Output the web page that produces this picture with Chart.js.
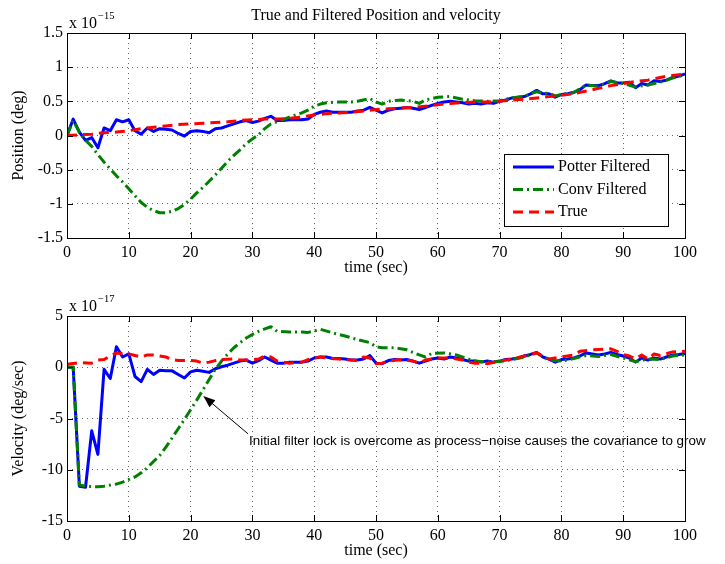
<!DOCTYPE html>
<html>
<head>
<meta charset="utf-8">
<script src="https://cdn.jsdelivr.net/npm/chart.js@4.4.0/dist/chart.umd.min.js"></script>
<style>
  body { margin: 0; background: #fff; }
  canvas { position: absolute; left: 0; }
  #posChart { top: 0; }
  #velChart { top: 282px; }
</style>
</head>
<body>
<canvas id="posChart" width="725" height="282"></canvas>
<canvas id="velChart" width="725" height="282"></canvas>
<script>
// time base for the Potter filter output (1 s samples)
const potterT = [0,1,2,3,4,5,6,7,8,9,10,11,12,13,14,15,16,17,18,19,20,21,22,23,24,25,26,27,28,29,30,
  31,32,33,34,35,36,37,38,39,40,41,42,43,44,45,46,47,48,49,50,51,52,53,54,55,56,57,58,59,60,
  61,62,63,64,65,66,67,68,69,70,71,72,73,74,75,76,77,78,79,80,81,82,83,84,85,86,87,88,89,90,
  91,92,93,94,95,96,97,98,99,100];

// position, units of 1e-15 deg
const posPotter = [0,0.24,0.05,-0.07,-0.03,-0.18,0.11,0.07,0.23,0.2,0.23,0.07,0.02,0.11,0.06,0.1,0.09,0.08,0.03,-0.01,
  0.06,0.07,0.06,0.04,0.1,0.11,0.14,0.17,0.2,0.22,0.19,0.21,0.25,0.28,
  0.22,0.22,0.23,0.23,0.23,0.24,0.31,0.34,0.36,0.34,0.34,0.34,0.34,0.36,0.37,0.41,0.37,0.33,0.37,0.39,0.40,0.41,
  0.40,0.38,0.41,0.44,0.47,0.49,0.50,0.49,0.48,0.46,
  0.47,0.46,0.48,0.47,0.50,0.52,0.55,0.56,0.57,0.61,0.66,0.61,0.61,0.56,0.60,0.61,0.63,0.67,0.74,0.73,0.73,
  0.76,0.80,0.77,0.77,0.78,0.70,0.76,0.74,0.80,0.79,0.81,0.85,0.87,0.90];

const posConvT = [0,1,2,3,4,5,6,7,8,9,10,11,12,13,14,15,16,17,18,19,20,21,22,23,24,25,26,27,28,29,30,31,32,33,34,
  36,38,39,40,41,42,44,46,47,49,50,51,52,54,56,57,58,60,62,64,66,68,70,72,74,75,76,77,78,79,
  80,82,84,86,88,90,92,94,96,98,100];
const posConv = [0,0.22,0.05,-0.07,-0.16,-0.28,-0.39,-0.49,-0.59,-0.68,-0.78,-0.88,-0.98,-1.05,-1.10,-1.13,-1.13,-1.11,-1.07,-1.01,
  -0.93,-0.84,-0.76,-0.67,-0.58,-0.48,-0.38,-0.29,-0.21,-0.12,-0.05,0.01,0.1,0.17,0.2,
  0.27,0.33,0.37,0.43,0.46,0.48,0.49,0.49,0.5,0.54,0.49,0.46,0.5,0.52,0.5,0.47,0.52,0.56,0.57,0.53,
  0.51,0.5,0.51,0.55,0.57,0.61,0.64,0.62,0.62,0.58,0.6,0.63,0.74,0.72,0.79,0.76,0.71,0.74,0.78,0.84,0.89];

const posTrueT = [0,2,4,6,8,10,12,14,16,18,20,22,24,26,28,30,32,34,36,38,40,42,44,46,48,50,
  52,54,56,58,60,62,64,66,68,70,72,74,76,78,80,82,84,86,88,90,92,94,96,98,100];
const posTrue = [0,0.01,0.02,0.04,0.05,0.07,0.1,0.12,0.14,0.16,0.17,0.18,0.19,0.2,0.22,0.23,0.24,0.24,0.25,0.27,0.3,
  0.32,0.33,0.34,0.36,0.38,0.39,0.40,0.41,0.43,0.45,0.47,0.48,0.49,0.49,0.5,0.52,0.53,0.55,0.57,0.59,
  0.61,0.65,0.69,0.73,0.76,0.79,0.81,0.85,0.88,0.9];

// velocity, units of 1e-17 deg/sec
const velPotter = [0,0,-11.6,-11.7,-6.2,-8.5,-0.2,-1.1,2.0,1.0,1.3,-0.9,-1.4,-0.2,-0.7,-0.3,-0.35,-0.35,-0.7,-1.05,
  -0.45,-0.3,-0.4,-0.5,-0.15,0.05,0.2,0.4,0.6,0.7,0.4,0.65,1.0,
  0.7,0.4,0.4,0.5,0.5,0.5,0.6,0.9,1.0,1.0,0.85,0.85,0.8,0.7,0.7,0.8,1.15,
  0.4,0.35,0.65,0.75,0.7,0.75,0.6,0.4,0.6,0.8,0.9,0.8,1.0,0.9,0.75,0.6,
  0.6,0.5,0.6,0.5,0.6,0.75,0.8,0.9,1.1,1.25,1.45,1.0,0.8,0.5,0.75,0.8,0.9,1.1,1.4,1.3,
  1.2,1.3,1.45,1.25,1.1,0.9,0.5,0.9,0.7,0.9,0.8,1.0,1.2,1.25,1.35];

const velConvT = [0,1,2,3,4,5,6,7,8,9,10,11,12,13,14,15,16,17,18,19,20,21,22,23,24,25,26,27,28,29,30,31,32,33,34,
  36,38,39,41,43,45,47,49,50,51,53,55,57,58,59,61,63,65,66,68,70,72,74,76,78,80,82,84,86,88,90,92,94,96,98,100];
const velConv = [0,0,-11.5,-11.6,-11.65,-11.65,-11.6,-11.5,-11.4,-11.2,-10.95,-10.7,-10.3,-9.8,-9.2,-8.6,-7.8,-6.9,-6.0,-5.1,
  -4.15,-3.2,-2.2,-1.2,-0.2,0.6,1.3,1.9,2.4,2.85,3.2,3.5,3.75,3.95,3.5,
  3.45,3.45,3.4,3.7,3.35,3.05,2.7,2.4,2.0,1.9,1.9,1.7,1.2,1.0,1.35,1.4,1.2,0.8,0.6,0.5,
  0.55,0.75,1.0,1.4,0.7,0.6,0.85,1.15,1.05,1.25,0.9,0.55,0.8,0.75,1.1,1.2];

const velTrueT = [0,2,4,5,6,7,8,9,10,11,12,13,14,15,16,17,18,20,21,22,23,24,25,27,28,29,30,31,32,33,
  34,36,38,39,40,41,42,44,46,47,48,49,50,51,52,54,56,57,58,60,62,64,65,66,68,70,72,74,76,78,
  80,82,83,85,87,88,89,90,91,92,93,94,95,96,98,100];
const velTrue = [0.3,0.45,0.4,0.7,0.75,1.1,1.4,1.35,1.3,1.15,1.0,1.2,1.2,1.1,1.0,0.75,0.65,0.65,0.6,0.4,
  0.5,0.65,0.75,0.8,0.7,0.7,0.75,0.8,1.1,1.0,0.6,0.4,0.5,0.75,0.9,1.0,0.9,0.8,0.7,0.65,
  1.0,0.9,0.35,0.4,0.6,0.75,0.6,0.4,0.7,0.9,0.9,0.7,0.5,0.4,0.35,0.6,0.8,1.1,1.4,0.8,
  1.0,1.2,1.55,1.7,1.75,1.8,1.55,1.25,1.1,0.8,1.2,0.8,1.3,1.15,1.5,1.55];

const seriesNames = ['Potter Filtered', 'Conv Filtered', 'True'];

const serif = '"Liberation Serif", "Times New Roman", serif';
const sans = '"Liberation Sans", Arial, sans-serif';

function pts(t, v) {
  return t.map((x, i) => ({ x: x, y: v[i] }));
}

// blue solid, green dash-dot, red dashed; True drawn on top
function lines(potter, conv, truth) {
  return [
    { label: seriesNames[0], data: potter, borderColor: '#0000ff', borderWidth: 3, borderDash: [], order: 2 },
    { label: seriesNames[1], data: conv, borderColor: '#008000', borderWidth: 3, borderDash: [10, 4, 2, 4], order: 1 },
    { label: seriesNames[2], data: truth, borderColor: '#ff0000', borderWidth: 3, borderDash: [10, 6], order: 0 }
  ];
}

// box, inward ticks, exponent, titles, legend and arrow note
const matlabAxes = {
  id: 'matlabAxes',
  beforeDraw(chart) {
    const ctx = chart.ctx;
    ctx.save();
    ctx.fillStyle = '#fff';
    ctx.fillRect(0, 0, chart.width, chart.height);
    ctx.restore();
  },
  afterDraw(chart, args, o) {
    const ctx = chart.ctx, a = chart.chartArea;
    const xs = chart.scales.x, ys = chart.scales.y;
    const cx = (a.left + a.right) / 2;
    ctx.save();
    ctx.strokeStyle = '#000';
    ctx.lineWidth = 1;
    ctx.setLineDash([]);
    ctx.strokeRect(Math.round(a.left) + 0.5, Math.round(a.top) + 0.5,
      Math.round(a.right - a.left), Math.round(a.bottom - a.top));
    ctx.beginPath();
    for (const t of xs.ticks) {
      const x = Math.round(xs.getPixelForValue(t.value)) + 0.5;
      ctx.moveTo(x, a.top); ctx.lineTo(x, a.top + 6);
      ctx.moveTo(x, a.bottom); ctx.lineTo(x, a.bottom - 6);
    }
    for (const t of ys.ticks) {
      const y = Math.round(ys.getPixelForValue(t.value)) + 0.5;
      ctx.moveTo(a.left, y); ctx.lineTo(a.left + 6, y);
      ctx.moveTo(a.right, y); ctx.lineTo(a.right - 6, y);
    }
    ctx.stroke();

    ctx.fillStyle = '#000';
    ctx.textAlign = 'left';
    ctx.textBaseline = 'alphabetic';
    ctx.font = '16px ' + serif;
    ctx.fillText('x 10', a.left + 2, a.top - 5);
    const w = ctx.measureText('x 10').width;
    ctx.font = '10.5px ' + serif;
    ctx.fillText(o.exponent, a.left + 3 + w, a.top - 14);

    ctx.font = '16px ' + serif;
    ctx.textAlign = 'center';
    ctx.textBaseline = 'middle';
    ctx.fillText(o.xTitle, cx, a.bottom + 30);
    if (o.title) ctx.fillText(o.title, cx, 16);
    ctx.save();
    ctx.translate(19, (a.top + a.bottom) / 2);
    ctx.rotate(-Math.PI / 2);
    ctx.fillText(o.yTitle, 0, 0);
    ctx.restore();

    if (o.legend) {
      const L = o.legend;
      ctx.fillStyle = '#fff';
      ctx.fillRect(L.x, L.y, L.w, L.h);
      ctx.strokeRect(L.x + 0.5, L.y + 0.5, L.w, L.h);
      ctx.textAlign = 'left';
      ctx.font = '16px ' + serif;
      chart.data.datasets.forEach((ds, i) => {
        const y = L.y + 13 + i * 22.5;
        ctx.save();
        ctx.strokeStyle = ds.borderColor;
        ctx.lineWidth = ds.borderWidth;
        ctx.setLineDash(ds.borderDash);
        ctx.beginPath();
        ctx.moveTo(L.x + 9, y);
        ctx.lineTo(L.x + 50, y);
        ctx.stroke();
        ctx.restore();
        ctx.fillStyle = '#000';
        ctx.fillText(ds.label, L.x + 54, y);
      });
    }

    if (o.note) {
      const n = o.note;
      const tx = xs.getPixelForValue(n.tail[0]), ty = ys.getPixelForValue(n.tail[1]);
      const hx = xs.getPixelForValue(n.head[0]), hy = ys.getPixelForValue(n.head[1]);
      const ang = Math.atan2(hy - ty, hx - tx);
      ctx.strokeStyle = '#000';
      ctx.lineWidth = 1;
      ctx.beginPath();
      ctx.moveTo(tx, ty);
      ctx.lineTo(hx - 8 * Math.cos(ang), hy - 8 * Math.sin(ang));
      ctx.stroke();
      ctx.fillStyle = '#000';
      ctx.beginPath();
      ctx.moveTo(hx, hy);
      ctx.lineTo(hx - 12 * Math.cos(ang) + 4.5 * Math.sin(ang), hy - 12 * Math.sin(ang) - 4.5 * Math.cos(ang));
      ctx.lineTo(hx - 12 * Math.cos(ang) - 4.5 * Math.sin(ang), hy - 12 * Math.sin(ang) + 4.5 * Math.cos(ang));
      ctx.closePath();
      ctx.fill();
      ctx.font = '13.4px ' + sans;
      ctx.textAlign = 'left';
      ctx.textBaseline = 'middle';
      ctx.fillText(n.text, xs.getPixelForValue(n.at[0]), ys.getPixelForValue(n.at[1]));
    }
    ctx.restore();
  }
};

function makeChart(id, datasets, yMin, yMax, yStep, padTop, xHeight, axesOpts) {
  return new Chart(document.getElementById(id), {
    type: 'line',
    data: { datasets: datasets },
    plugins: [matlabAxes],
    options: {
      responsive: false,
      animation: false,
      devicePixelRatio: 1,
      layout: { padding: { top: padTop, right: 40, left: 0, bottom: 0 } },
      elements: { point: { radius: 0 }, line: { tension: 0, borderJoinStyle: 'round' } },
      plugins: { legend: { display: false }, tooltip: { enabled: false }, matlabAxes: axesOpts },
      scales: {
        x: {
          type: 'linear', min: 0, max: 100,
          afterFit: s => { s.height = xHeight; },
          ticks: { stepSize: 10, color: '#000', padding: 5, font: { family: serif, size: 16 } },
          grid: { color: 'rgba(0,0,0,0.6)', lineWidth: 1, drawTicks: false },
          border: { display: false, dash: [1, 4] }
        },
        y: {
          min: yMin, max: yMax,
          afterFit: s => { s.width = 67; },
          ticks: {
            stepSize: yStep, color: '#000', padding: 4, font: { family: serif, size: 16 },
            callback: v => String(Math.round(v * 10) / 10)
          },
          grid: { color: 'rgba(0,0,0,0.6)', lineWidth: 1, drawTicks: false },
          border: { display: false, dash: [1, 4] }
        }
      }
    }
  });
}

makeChart('posChart',
  lines(pts(potterT, posPotter), pts(posConvT, posConv), pts(posTrueT, posTrue)),
  -1.5, 1.5, 0.5, 33, 44,
  {
    exponent: '\u221215',
    title: 'True and Filtered Position and velocity',
    xTitle: 'time (sec)',
    yTitle: 'Position (deg)',
    legend: { x: 504, y: 154, w: 164, h: 72 }
  });

makeChart('velChart',
  lines(pts(potterT, velPotter), pts(velConvT, velConv), pts(velTrueT, velTrue)),
  -15, 5, 5, 34, 43,
  {
    exponent: '\u221217',
    xTitle: 'time (sec)',
    yTitle: 'Velocity (deg/sec)',
    note: {
      text: 'Initial filter lock is overcome as process\u2212noise causes the covariance to grow',
      tail: [29.3, -6.5], head: [22.05, -2.8], at: [29.45, -7.2]
    }
  });
</script>
</body>
</html>
